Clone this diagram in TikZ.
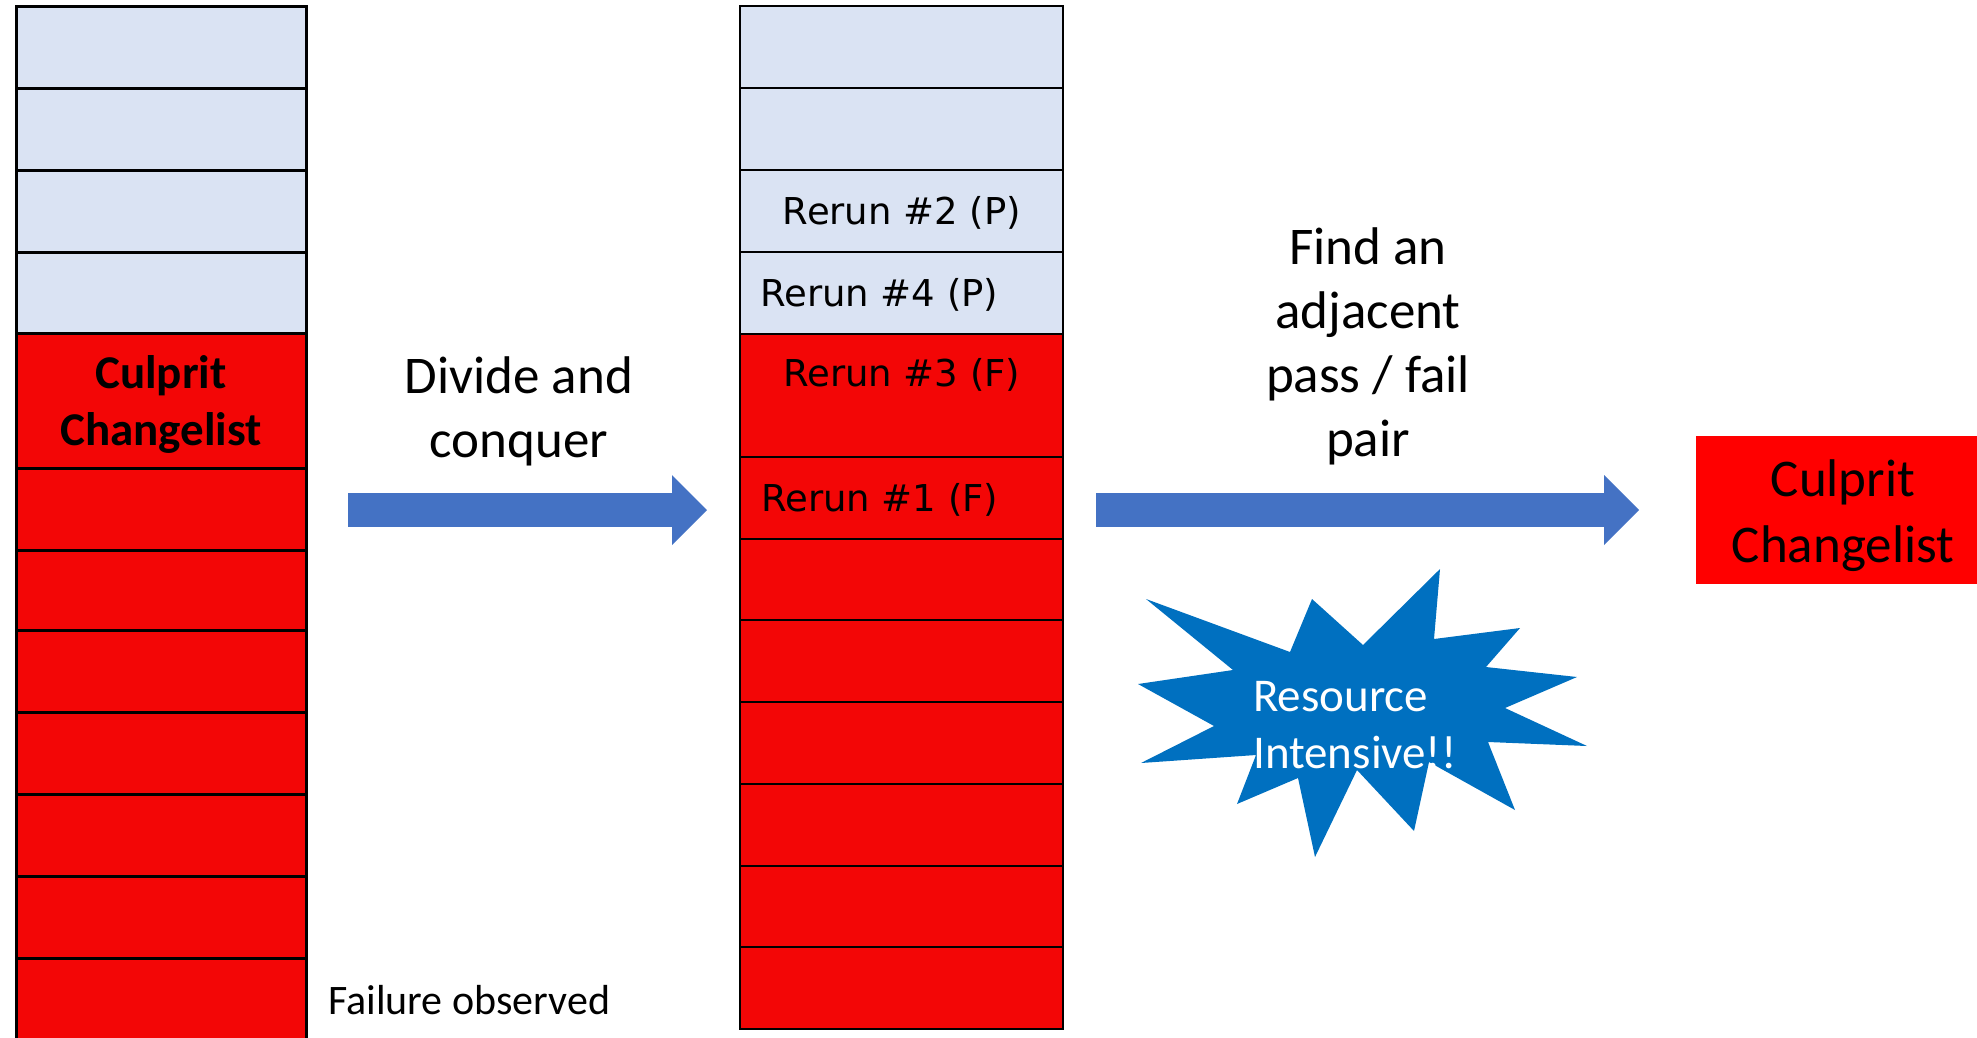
\documentclass[tikz,border=0pt]{standalone}
\usepackage{fontspec}
\setmainfont{Carlito}
\newfontfamily\rerunfont{DejaVu Sans}
\usetikzlibrary{arrows.meta}
\definecolor{paleblue}{HTML}{DAE3F3}
\definecolor{cellred}{RGB}{243,6,6}
\definecolor{boxred}{HTML}{FF0000}
\definecolor{arrowblue}{HTML}{4472C4}
\definecolor{burstblue}{HTML}{0070C0}
\begin{document}
\begin{tikzpicture}[x=1pt,y=-1pt,
  cellbase/.style={inner sep=0pt, outer sep=0pt, anchor=north west},
  bigtxt/.style={font=\fontsize{53}{64}\selectfont, align=center, inner sep=0pt},
  boldtxt/.style={font=\fontsize{47}{57}\selectfont\bfseries, align=center, inner sep=0pt},
  reruntxt/.style={font=\rerunfont\fontsize{37}{44}\selectfont, inner sep=0pt},
  blockarrow/.style={draw=arrowblue, line width=34pt,
    -{Triangle[length=35pt,width=70pt,line width=0pt]}}
]
\useasboundingbox (0,0) rectangle (1977,1037);
\clip (0,0) rectangle (1977,1037);

% left column
\foreach \i/\ya/\yb/\st in {1/6/88/paleblue,2/88/170/paleblue,3/170/252/paleblue,4/252/333/paleblue,
  5/333/468/cellred,6/468/550/cellred,7/550/630/cellred,8/630/712/cellred,9/712/794/cellred,
  10/794/876/cellred,11/876/958/cellred,12/958/1050/cellred}{
  \pgfmathsetmacro{\hh}{\yb-\ya}
  \node[cellbase, minimum width=290pt, minimum height=\hh pt, fill=\st] (L\i) at (16,\ya) {};
}
\foreach \i in {1,...,12}{
  \draw[line width=3pt] (L\i.north west) rectangle (L\i.south east);
}

% middle column
\foreach \i/\ya/\yb/\st in {1/6/88/paleblue,2/88/170/paleblue,3/170/252/paleblue,4/252/334/paleblue,
  5/334/457/cellred,6/457/539/cellred,7/539/620/cellred,8/620/702/cellred,9/702/784/cellred,
  10/784/866/cellred,11/866/947/cellred,12/947/1029/cellred}{
  \pgfmathsetmacro{\hh}{\yb-\ya}
  \node[cellbase, minimum width=323pt, minimum height=\hh pt, fill=\st] (M\i) at (740,\ya) {};
}
\foreach \i in {1,...,12}{
  \draw[line width=2.2pt] (M\i.north west) rectangle (M\i.south east);
}

% texts in columns
\node[boldtxt] (culpritL) at ([yshift=-4pt]L5.center) {Culprit\\Changelist};
\node[font=\fontsize{42}{50}\selectfont, inner sep=0pt, anchor=west] (failobs) at (328,1000) {Failure observed};
\node[reruntxt] (r2) at (902,213) {Rerun \#2 (P)};
\node[reruntxt, anchor=west] (r4) at (760,295) {Rerun \#4 (P)};
\node[reruntxt, anchor=west] (r3) at (783,375) {Rerun \#3 (F)};
\node[reruntxt, anchor=west] (r1) at (761,500) {Rerun \#1 (F)};

% labels
\node[bigtxt] (dc) at (519,411) {Divide and\\conquer};
\node[bigtxt] (fp) at (1368,346) {Find an\\adjacent\\pass / fail\\pair};

% result box
\node[fill=boxred, minimum width=294pt, minimum height=148pt, inner sep=0pt,
  font=\fontsize{53}{66}\selectfont, align=center] (culpritR) at (1843,510) {};
\node[font=\fontsize{53}{66}\selectfont, align=center, inner sep=0pt] (culpritRt) at ([yshift=-6pt]culpritR.center) {Culprit\\Changelist};

% arrows
\coordinate (a1s) at (348,510);
\coordinate (a1e) at (707,510);
\coordinate (a2s) at (1096,510);
\coordinate (a2e) at (1639,510);
\draw[blockarrow] (a1s) -- (a1e);
\draw[blockarrow] (a2s) -- (a2e);

% starburst
\fill[burstblue] (1146,599) -- (1290,652) -- (1312,599) -- (1363,645) -- (1440,569) -- (1434,639)
  -- (1520,628) -- (1486,667) -- (1577,677) -- (1505,708) -- (1587,746) -- (1488,742)
  -- (1515,810) -- (1429,762) -- (1414,831) -- (1357,770) -- (1315,857) -- (1298,778)
  -- (1237,804) -- (1256,755) -- (1141,763) -- (1214,726) -- (1138,684) -- (1233,670) -- cycle;
\node[font=\fontsize{47}{57}\selectfont, text=white, align=left, inner sep=0pt, anchor=west] (burst) at (1253,725) {Resource\\Intensive!!};
\end{tikzpicture}
\end{document}
